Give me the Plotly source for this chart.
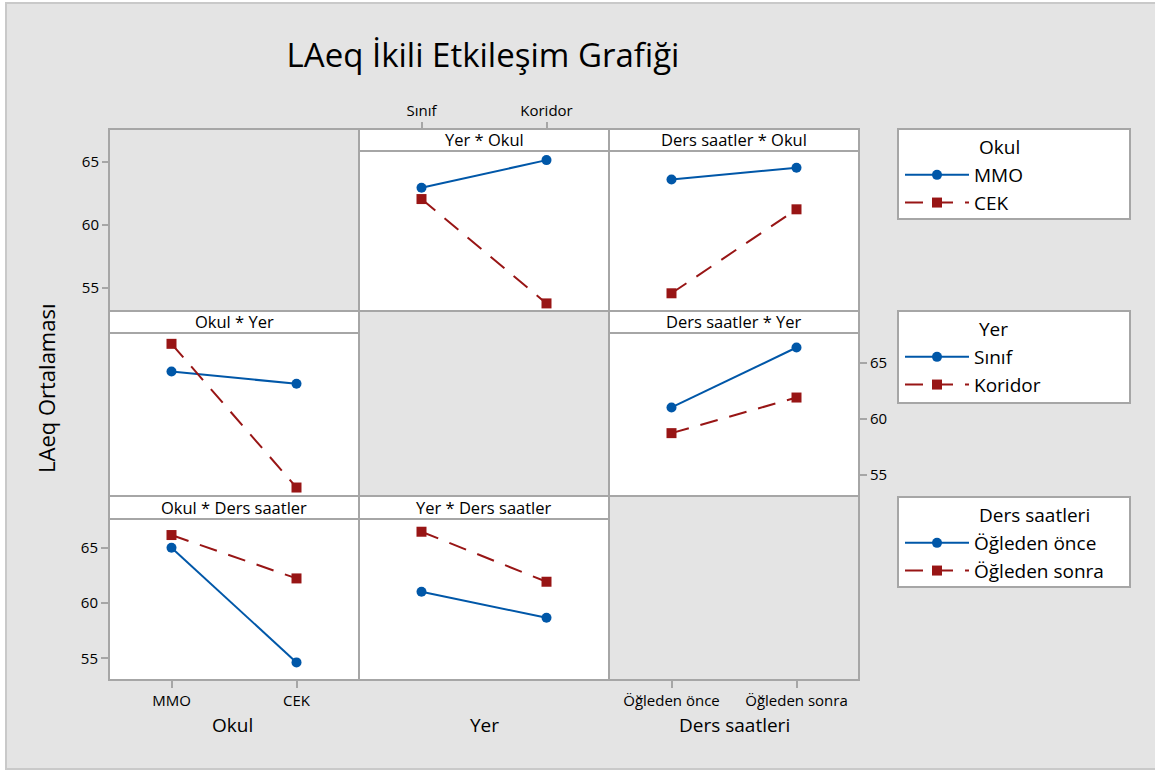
import plotly.graph_objects as go

W, H = 1155, 772

# categories
okul_cats = ["MMO", "CEK"]
yer_cats = ["Sınıf", "Koridor"]
ders_cats = ["Öğleden önce", "Öğleden sonra"]

# Yer * Okul  (x = Yer, lines = Okul)
yer_okul_mmo = [62.95, 65.13]
yer_okul_cek = [62.05, 53.8]
# Ders saatler * Okul  (x = Ders saatleri, lines = Okul)
ders_okul_mmo = [63.6, 64.53]
ders_okul_cek = [54.6, 61.24]
# Okul * Yer  (x = Okul, lines = Yer)
okul_yer_sinif = [64.25, 63.15]
okul_yer_koridor = [66.73, 53.86]
# Ders saatler * Yer  (x = Ders saatleri, lines = Yer)
ders_yer_sinif = [61.03, 66.4]
ders_yer_koridor = [58.73, 61.92]
# Okul * Ders saatler  (x = Okul, lines = Ders saatleri)
okul_ders_once = [65.0, 54.64]
okul_ders_sonra = [66.15, 62.23]
# Yer * Ders saatler  (x = Yer, lines = Ders saatleri)
yer_ders_once = [61.02, 58.67]
yer_ders_sonra = [66.45, 61.93]

y_ticks = [55, 60, 65]

BLUE = "#0057A8"
RED = "#981515"
GRID = "#A6A6A6"
BG = "#E4E4E4"
FONT = "Open Sans"


def px(v):
    return v / W


def py(v):
    return 1 - v / H


col_edges = [109, 359, 609, 859]
row_tops = [129, 311, 496]
row_bots = [311, 496, 680]
head_h = [22, 22, 23]
y_ranges = [[53.2, 65.85], [53.1, 67.7], [53.05, 67.6]]

fig = go.Figure()

# (row, col, title, x cats, blue vals, red vals, blue name, red name, legend)
panels = [
    (0, 1, "Yer * Okul", yer_cats, yer_okul_mmo, yer_okul_cek, "MMO", "CEK", "legend"),
    (0, 2, "Ders saatler * Okul", ders_cats, ders_okul_mmo, ders_okul_cek, "MMO", "CEK", None),
    (1, 0, "Okul * Yer", okul_cats, okul_yer_sinif, okul_yer_koridor, "Sınıf", "Koridor", "legend2"),
    (1, 2, "Ders saatler * Yer", ders_cats, ders_yer_sinif, ders_yer_koridor, "Sınıf", "Koridor", None),
    (2, 0, "Okul * Ders saatler", okul_cats, okul_ders_once, okul_ders_sonra, "Öğleden önce", "Öğleden sonra", "legend3"),
    (2, 1, "Yer * Ders saatler", yer_cats, yer_ders_once, yer_ders_sonra, "Öğleden önce", "Öğleden sonra", None),
]

shapes = []
annotations = []
layout_axes = {}

# outer frame
shapes.append(dict(type="rect", xref="paper", yref="paper", x0=px(6), x1=px(1160),
                   y0=py(769), y1=py(3), fillcolor=BG, line=dict(color="#C9C9C9", width=2),
                   layer="below"))

# diagonal empty cells
for i in range(3):
    shapes.append(dict(type="rect", xref="paper", yref="paper",
                       x0=px(col_edges[i]), x1=px(col_edges[i + 1]),
                       y0=py(row_bots[i]), y1=py(row_tops[i]),
                       fillcolor=BG, line=dict(color=GRID, width=2), layer="below"))

hidden = dict(showticklabels=False, ticks="", showgrid=False, zeroline=False, showline=False)

for k, (r, c, title, cats, blue, red, bname, rname, leg) in enumerate(panels):
    n = "" if k == 0 else str(k + 1)
    x0, x1 = col_edges[c], col_edges[c + 1]
    top, bot = row_tops[r], row_bots[r]
    hb = top + head_h[r]

    shapes.append(dict(type="rect", xref="paper", yref="paper", x0=px(x0), x1=px(x1),
                       y0=py(bot), y1=py(top), fillcolor="white",
                       line=dict(color=GRID, width=2), layer="below"))
    shapes.append(dict(type="line", xref="paper", yref="paper", x0=px(x0), x1=px(x1),
                       y0=py(hb), y1=py(hb), line=dict(color=GRID, width=2), layer="below"))
    annotations.append(dict(text=title, xref="paper", yref="paper", x=px((x0 + x1) / 2),
                            y=py((top + hb) / 2), showarrow=False, xanchor="center",
                            yanchor="middle", font=dict(size=16.5, color="black", family=FONT)))

    xa = dict(domain=[px(x0), px(x1)], type="category", range=[-0.5, 1.5],
              anchor="y" + n, **hidden)
    ya = dict(domain=[py(bot), py(hb)], range=y_ranges[r], anchor="x" + n, **hidden)
    layout_axes["xaxis" + n] = xa
    layout_axes["yaxis" + n] = ya

    fig.add_trace(go.Scatter(
        x=cats, y=blue, xaxis="x" + n, yaxis="y" + n, mode="lines+markers", name=bname,
        line=dict(color=BLUE, width=2), marker=dict(symbol="circle", size=10, color=BLUE),
        showlegend=leg is not None, legend=leg or "legend"))
    fig.add_trace(go.Scatter(
        x=cats, y=red, xaxis="x" + n, yaxis="y" + n, mode="lines+markers", name=rname,
        line=dict(color=RED, width=2, dash="18px,12px"),
        marker=dict(symbol="square", size=10, color=RED),
        showlegend=leg is not None, legend=leg or "legend"))

tick_style = dict(showticklabels=True, ticks="outside", ticklen=7, tickwidth=1.5,
                  tickcolor=GRID, tickfont=dict(size=15, color="black", family=FONT))

# row 1 y ticks on the left of the grid
layout_axes["yaxis"].update(tick_style, tickvals=y_ticks, anchor="free",
                            position=px(col_edges[0]), side="left")
# Yer ticks on top
layout_axes["xaxis"].update(tick_style, anchor="free", position=py(row_tops[0]), side="top")
# row 2 y ticks on the right
layout_axes["yaxis4"].update(tick_style, tickvals=y_ticks, side="right")
# Ders saatleri ticks at the bottom
layout_axes["xaxis4"].update(tick_style, anchor="free", position=py(row_bots[2]), side="bottom")
# row 3 y ticks and Okul ticks
layout_axes["yaxis5"].update(tick_style, tickvals=y_ticks, side="left")
layout_axes["xaxis5"].update(tick_style, side="bottom")

# axis titles
for text, x in [("Okul", 232), ("Yer", 484), ("Ders saatleri", 734)]:
    annotations.append(dict(text=text, xref="paper", yref="paper", x=px(x), y=py(725),
                            showarrow=False, xanchor="center", yanchor="middle",
                            font=dict(size=19, color="black", family=FONT)))
annotations.append(dict(text="LAeq Ortalaması", xref="paper", yref="paper", x=px(46), y=py(388),
                        showarrow=False, textangle=-90, xanchor="center", yanchor="middle",
                        font=dict(size=22, color="black", family=FONT)))

# legend boxes and titles
legend_boxes = [(129, 219, "Okul"), (311, 403, "Yer"), (497, 587, "Ders saatleri")]
legend_cfg = {}
for i, (t, b, lt) in enumerate(legend_boxes):
    shapes.append(dict(type="rect", xref="paper", yref="paper", x0=px(898), x1=px(1130),
                       y0=py(b), y1=py(t), fillcolor="white",
                       line=dict(color=GRID, width=2), layer="below"))
    annotations.append(dict(text=lt, xref="paper", yref="paper", x=px(977), y=py(t + 18),
                            showarrow=False, xanchor="left", yanchor="middle",
                            font=dict(size=19, color="black", family=FONT)))
    name = "legend" if i == 0 else "legend" + str(i + 1)
    legend_cfg[name] = dict(x=px(900), y=py(t + 27), xanchor="left", yanchor="top",
                            bgcolor="rgba(0,0,0,0)", borderwidth=0, itemwidth=64,
                            font=dict(size=19, color="black", family=FONT))

fig.update_layout(
    width=W, height=H,
    margin=dict(l=0, r=0, t=0, b=0),
    paper_bgcolor="white",
    plot_bgcolor="rgba(0,0,0,0)",
    font=dict(family=FONT, color="black"),
    title=dict(text="LAeq İkili Etkileşim Grafiği", x=px(483), y=py(55),
               xanchor="center", yanchor="middle",
               font=dict(size=33, color="black", family=FONT)),
    shapes=shapes,
    annotations=annotations,
    **layout_axes,
    **legend_cfg,
)

fig.write_html("out.html", config={"displayModeBar": False},
               post_script="document.body.style.margin='0';")
